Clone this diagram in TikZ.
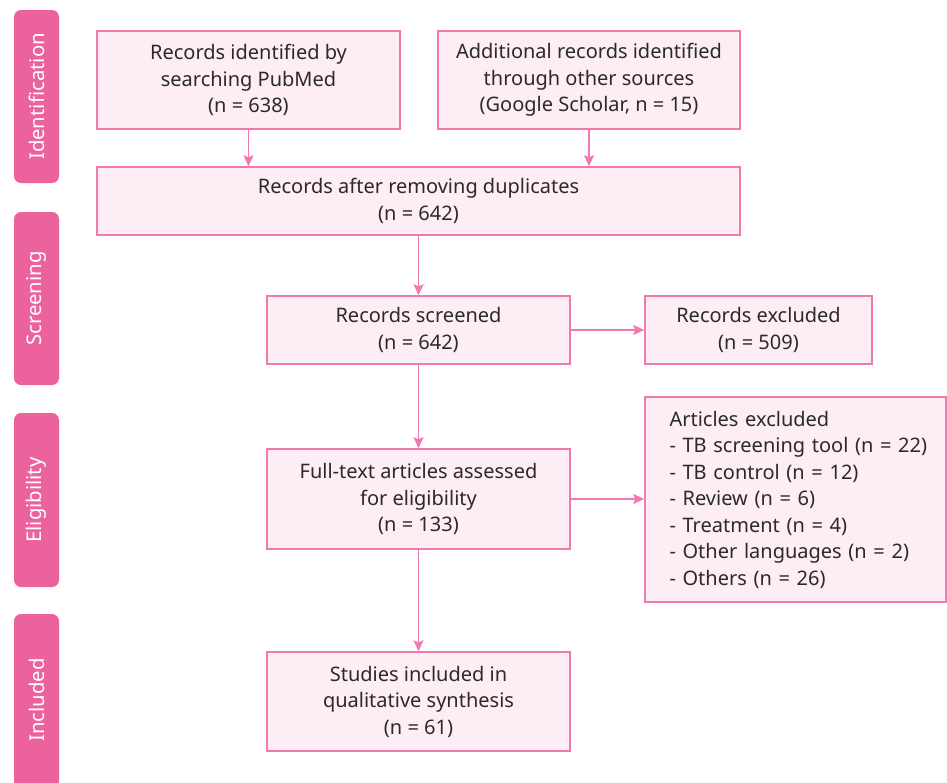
\documentclass[tikz,border=0pt]{standalone}
\usepackage{fontspec}
\setmainfont{Noto Sans}
\usetikzlibrary{arrows.meta}
\definecolor{pinkline}{HTML}{F07AAE}
\definecolor{pinkfill}{HTML}{FDEEF5}
\definecolor{pinkbar}{HTML}{EC629D}
\definecolor{txt}{HTML}{2A2A2A}
\begin{document}
\begin{tikzpicture}[x=1pt,y=-1pt,
  flowbox/.style={draw=pinkline,fill=pinkfill,line width=1.5pt,inner sep=0pt,
    align=center,text=txt,font=\fontsize{20}{26.5}\selectfont},
  sidebar/.style={fill=pinkbar,rounded corners=7pt},
  barlabel/.style={text=white,rotate=90,font=\fontsize{20.3}{22}\selectfont},
  flowarrow/.style={draw=pinkline,line width=1.5pt,-{Stealth[length=11pt,width=10pt,inset=2pt]}}]
\useasboundingbox (0,0) rectangle (947,782);
\fill[white] (0,0) rectangle (947,782);
% side bars
\begin{scope}
\clip (0,0) rectangle (947,782);
\path[sidebar] (14,10) rectangle (59,183);
\path[sidebar] (14,212) rectangle (59,385);
\path[sidebar] (14,413) rectangle (59,587);
\path[sidebar] (14,614) rectangle (59,800);
\end{scope}
\node[barlabel] (lid) at (36.5,96.5) {Identification};
\node[barlabel] (lsc) at (36.5,298.5) {Screening};
\node[barlabel] (lel) at (36.5,500) {Eligibility};
\node[barlabel] (lin) at (36.5,700) {Included};
% boxes
\node[flowbox,minimum width=303pt,minimum height=98pt] (b1) at (248.5,80)
  {Records identified by\\searching PubMed\\(n = 638)};
\node[flowbox,minimum width=302pt,minimum height=98pt] (b2) at (589,80)
  {Additional records identified\\through other sources\\(Google Scholar, n = 15)};
\node[flowbox,minimum width=643pt,minimum height=68pt] (b3) at (418.5,201)
  {Records after removing duplicates\\(n = 642)};
\node[flowbox,minimum width=303pt,minimum height=68pt] (b4) at (418.5,330)
  {Records screened\\(n = 642)};
\node[flowbox,minimum width=227pt,minimum height=68pt] (b5) at (758.5,330)
  {Records excluded\\(n = 509)};
\node[flowbox,minimum width=303pt,minimum height=100pt] (b6) at (418.5,499)
  {Full-text articles assessed\\for eligibility\\(n = 133)};
\node[flowbox,minimum width=301pt,minimum height=205pt,align=left,text width=252pt,inner xsep=24.5pt] (b7) at (795.5,499.5)
  {Articles excluded\\\mbox{- TB screening tool (n = 22)}\\- TB control (n = 12)\\- Review (n = 6)\\- Treatment (n = 4)\\- Other languages (n = 2)\\- Others (n = 26)};
\node[flowbox,minimum width=303pt,minimum height=99pt] (b8) at (418.5,701.5)
  {Studies included in\\qualitative synthesis\\(n = 61)};
% arrows
\draw[flowarrow] (b1.south) -- (b1.south |- b3.north);
\draw[flowarrow] (b2.south) -- (b2.south |- b3.north);
\draw[flowarrow] (b3.south) -- (b4.north);
\draw[flowarrow] (b4.east) -- (b5.west);
\draw[flowarrow] (b4.south) -- (b6.north);
\draw[flowarrow] (b6.east) -- (b6.east -| b7.west);
\draw[flowarrow] (b6.south) -- (b8.north);
\end{tikzpicture}
\end{document}
